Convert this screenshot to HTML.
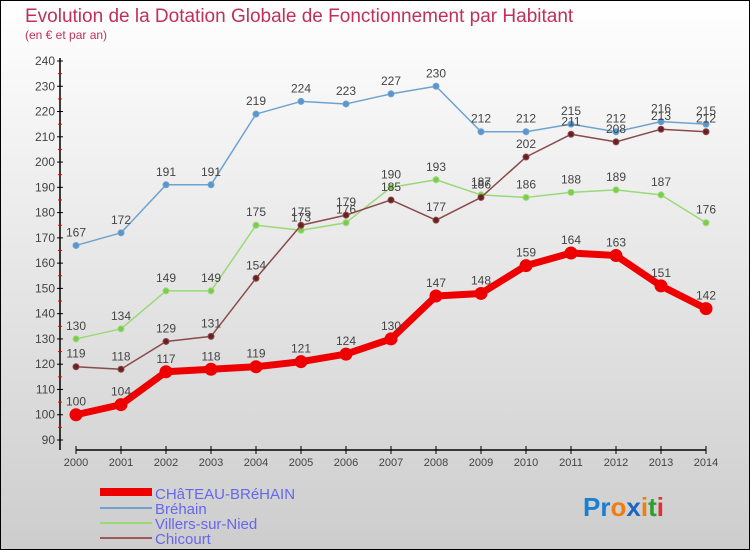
<!DOCTYPE html>
<html><head><meta charset="utf-8"><style>
body{margin:0}
#c{width:750px;height:550px;position:relative;overflow:hidden;font-family:"Liberation Sans",sans-serif}
</style></head><body>
<div id="c">
<svg id="s" width="750" height="550" xmlns="http://www.w3.org/2000/svg">
<defs><linearGradient id="bg" x1="0" y1="0" x2="0" y2="1"><stop offset="0" stop-color="#ffffff"/><stop offset="1" stop-color="#cdcdcd"/></linearGradient></defs>
<rect x="0.5" y="0.5" width="749" height="549" fill="url(#bg)" stroke="#000"/>
<text x="25" y="22" font-size="19" fill="#c0305a">Evolution de la Dotation Globale de Fonctionnement par Habitant</text>
<text x="25" y="39" font-size="12" fill="#c0305a">(en € et par an)</text>
<g id="axes"></g><g id="series"></g>
<g>
<line x1="100" y1="492" x2="152" y2="492" stroke="#e00" stroke-width="8"/>
<text x="155" y="499" font-size="15" fill="#6666ee">CHâTEAU-BRéHAIN</text>
<line x1="100" y1="508" x2="152" y2="508" stroke="#6fa3cf" stroke-width="2"/>
<text x="155" y="514" font-size="15" fill="#6666ee">Bréhain</text>
<line x1="100" y1="523" x2="152" y2="523" stroke="#99d977" stroke-width="2"/>
<text x="155" y="529" font-size="15" fill="#6666ee">Villers-sur-Nied</text>
<line x1="100" y1="538" x2="152" y2="538" stroke="#9a5a5a" stroke-width="2"/>
<text x="155" y="544" font-size="15" fill="#6666ee">Chicourt</text>
</g>
<g font-size="26" font-weight="bold">
<text x="583" y="516"><tspan fill="#1a7fd0">Pr</tspan><tspan fill="#f07d10">o</tspan><tspan fill="#1a66c0">x</tspan><tspan fill="#f07d10">i</tspan><tspan fill="#2aa030">t</tspan><tspan fill="#e03030">i</tspan></text>
</g>
</svg>
</div>
<script>
const years=[2000,2001,2002,2003,2004,2005,2006,2007,2008,2009,2010,2011,2012,2013,2014];
const chateau=[100,104,117,118,119,121,124,130,147,148,159,164,163,151,142];
const brehain=[167,172,191,191,219,224,223,227,230,212,212,215,212,216,215];
const villers=[130,134,149,149,175,173,176,190,193,187,186,188,189,187,176];
const chicourt=[119,118,129,131,154,175,179,185,177,186,202,211,208,213,212];
const yTicks=[90,100,110,120,130,140,150,160,170,180,190,200,210,220,230,240];
const NS='http://www.w3.org/2000/svg';
function X(i){return 76+i*(706-76)/(years.length-1);}
function Y(v){return 440-(v-90)*(440-61)/150;}
function mk(t,a,p){const e=document.createElementNS(NS,t);for(const k in a)e.setAttribute(k,a[k]);p.appendChild(e);return e;}
const ax=document.getElementById('axes');
const yl=mk('line',{x1:60,y1:58,x2:60,y2:450,stroke:'#000','stroke-width':1.5},ax);


const xl=mk('line',{x1:76,y1:450,x2:706,y2:450,stroke:'#000','stroke-width':1.5},ax);


yTicks.forEach(v=>{
 mk('line',{x1:57,y1:Y(v),x2:63,y2:Y(v),stroke:'#000'},ax);
 if(v<240)mk('line',{x1:58,y1:Y(v+5),x2:62,y2:Y(v+5),stroke:'#e00'},ax);
 const t=mk('text',{x:55,y:Y(v)+4,'font-size':12,fill:'#444','text-anchor':'end'},ax);t.textContent=v;
 
 
});
years.forEach((y,i)=>{
 mk('line',{x1:X(i),y1:446,x2:X(i),y2:454,stroke:'#000'},ax);
 const t=mk('text',{x:X(i),y:466,'font-size':11,fill:'#444','text-anchor':'middle'},ax);t.textContent=y;
 
 
});
const sg=document.getElementById('series');
function draw(data,color,w,r,name,dot){
 const g=mk('g',{},sg);
 
 
 mk('polyline',{points:data.map((v,i)=>X(i)+','+Y(v)).join(' '),fill:'none',stroke:color,'stroke-width':w,'stroke-linejoin':'round'},g);
 data.forEach((v,i)=>{
  const c=mk('circle',{cx:X(i),cy:Y(v),r:r,fill:dot,stroke:color,'stroke-width':1},g);
  
  
  const t=mk('text',{x:X(i),y:Y(v)-9,'font-size':12,fill:'#444','text-anchor':'middle'},g);t.textContent=v;
  
  
 });
}
draw(brehain,'#6fa3cf',1.5,3,'brehain','#5a96cc');
draw(villers,'#99d977',1.5,3,'villers','#7ccc4c');
draw(chicourt,'#8a4a4a',1.5,3,'chicourt','#6a2020');
draw(chateau,'#e00',7,6,'chateau','#e00');
</script>
</body></html>
